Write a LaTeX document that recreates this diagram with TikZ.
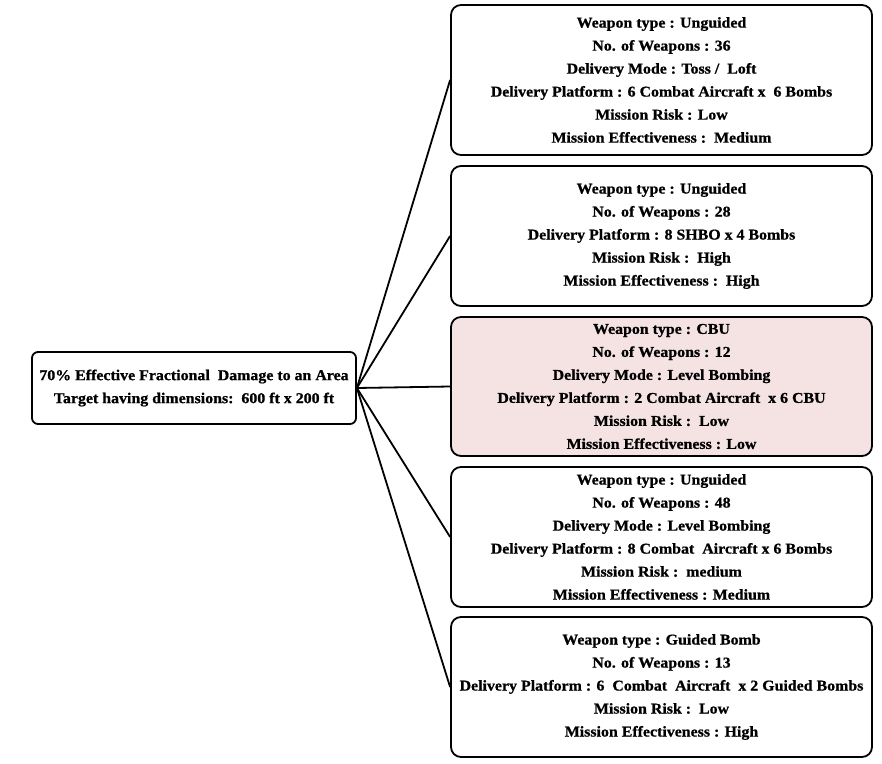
\documentclass[tikz,border=0pt]{standalone}
\usepackage{fontspec}
\setmainfont{Liberation Serif}
\newfontfamily\boxfont{Liberation Serif Bold}[FakeBold=0.8,FakeStretch=1.06]
\definecolor{pinkfill}{HTML}{F5E3E3}
\begin{document}
\begin{tikzpicture}[x=1bp,y=-1bp,
  box/.style={draw=black,line width=1.8bp,rounded corners=10bp,align=center,
    minimum width=421bp,inner sep=0pt,
    font=\boxfont\fontsize{15bp}{23bp}\selectfont},
  rootbox/.style={draw=black,line width=1.8bp,rounded corners=6bp,align=center,
    minimum width=324bp,minimum height=72bp,inner sep=0pt,
    font=\boxfont\fontsize{15bp}{23bp}\selectfont},
  link/.style={line width=1.8bp,draw=black}]
\useasboundingbox (0,0) rectangle (882,764);
\node[rootbox] (root) at (194,388) {70\% Effective Fractional\ \ Damage to an Area\\Target having dimensions:\ \ 600 ft x 200 ft};
\node[box,minimum height=150bp] (b1) at (661.5,80) {Weapon type : Unguided\\No. of Weapons : 36\\Delivery Mode : Toss /\ \ Loft\\Delivery Platform : 6 Combat Aircraft x\ \ 6 Bombs\\Mission Risk : Low\\Mission Effectiveness :\ \ Medium};
\node[box,minimum height=140bp] (b2) at (661.5,236) {Weapon type : Unguided\\No. of Weapons : 28\\Delivery Platform : 8 SHBO x 4 Bombs\\Mission Risk :\ \ High\\Mission Effectiveness :\ \ High};
\node[box,minimum height=139bp,fill=pinkfill] (b3) at (661.5,386.5) {Weapon type : CBU\\No. of Weapons : 12\\Delivery Mode : Level Bombing\\Delivery Platform : 2 Combat Aircraft\ \ x 6 CBU\\Mission Risk :\ \ Low\\Mission Effectiveness : Low};
\node[box,minimum height=140bp] (b4) at (661.5,537) {Weapon type : Unguided\\No. of Weapons : 48\\Delivery Mode : Level Bombing\\Delivery Platform : 8 Combat\ \ Aircraft x 6 Bombs\\Mission Risk :\ \ medium\\Mission Effectiveness : Medium};
\node[box,minimum height=140bp] (b5) at (661.5,687) {Weapon type : Guided Bomb\\No. of Weapons : 13\\Delivery Platform : 6\ \ Combat\ \ Aircraft\ \ x 2 Guided Bombs\\Mission Risk :\ \ Low\\Mission Effectiveness : High};
\foreach \b in {b1,b2,b3,b4,b5} \draw[link] (root.east) -- (\b.west);
\end{tikzpicture}
\end{document}
